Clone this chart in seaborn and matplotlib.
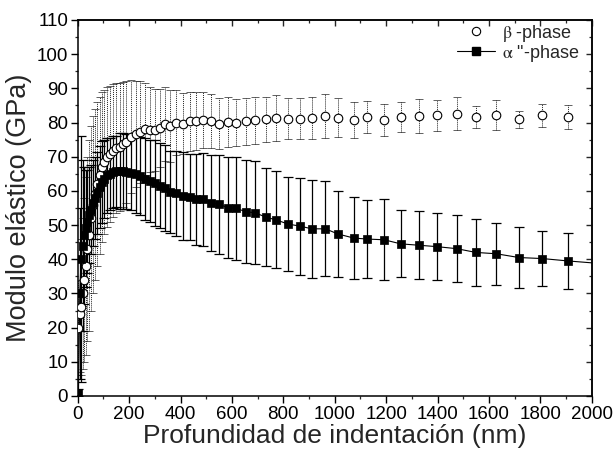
import numpy as np
import pandas as pd
import matplotlib
matplotlib.use("Agg")
import matplotlib.pyplot as plt
from matplotlib.lines import Line2D
from matplotlib.ticker import MultipleLocator
import seaborn as sns

# ---- data ----
depth_nm = [3, 8, 13, 19, 25, 31, 38, 45, 52, 60,
            68, 76, 85, 94, 104, 115, 126, 138, 150, 163,
            176, 189, 209, 228, 244, 261, 280, 300, 319, 339,
            358, 384, 410, 436, 462, 488, 520, 550, 583, 617,
            654, 691, 732, 773, 818, 864, 911, 964, 1012, 1074,
            1127, 1192, 1257, 1327, 1396, 1474, 1549, 1629, 1717, 1808,
            1908, 2025]

beta_modulus = [20, 24, 26, 30, 34, 38, 43, 47, 52, 56,
                59, 62, 64.5, 67, 68.5, 70, 70.8, 71.8, 72.5, 72.9,
                73.6, 74.3, 75.8, 76.7, 77.2, 78.2, 77.9, 77.9, 78.4, 79.5,
                79.0, 80.0, 79.7, 80.3, 80.4, 80.6, 80.4, 79.7, 80.1, 80.0,
                80.3, 80.6, 80.9, 81.3, 81.1, 81.1, 81.4, 81.8, 81.4, 80.8,
                81.6, 80.8, 81.6, 81.9, 82.1, 82.6, 81.6, 82.1, 80.9, 82.1,
                81.6, 81.5]

beta_err = [14, 17, 20, 22, 24, 26, 27, 28, 27, 26,
            25, 24, 23, 22, 21, 20.5, 20, 19.5, 19, 18.8,
            18.3, 17.8, 16.5, 15.5, 15, 13.5, 12.5, 12, 11.5, 10.8,
            10.5, 9.5, 9, 8.7, 8.5, 8.2, 7.8, 7.5, 7.3, 7.0,
            6.9, 6.8, 6.7, 6.7, 6.0, 6.0, 6.2, 6.4, 5.7, 5.3,
            4.8, 4.7, 4.5, 4.9, 4.5, 4.9, 3.3, 4.4, 2.6, 3.4,
            3.5, 3.5]

alpha_modulus = [1, 30, 40, 44, 47, 49, 51, 53, 54.5, 56.5,
                 58, 59.5, 61, 62.5, 63.5, 64.5, 65, 65.5, 65.7, 65.8,
                 65.8, 65.6, 65.3, 64.9, 64.3, 63.6, 63.0, 62.3, 61.5, 60.8,
                 59.8, 59.3, 58.5, 58.3, 57.5, 57.5, 56.5, 56.1, 55.1, 54.9,
                 53.9, 53.6, 52.3, 51.5, 50.3, 49.7, 48.9, 48.9, 47.4, 46.2,
                 45.9, 45.7, 44.5, 44.1, 43.7, 43.1, 42.0, 41.6, 40.5, 40.2,
                 39.5, 38.8]

alpha_err = [1, 25, 36, 25, 20, 17, 15, 14, 13, 12.5,
             12, 12, 12, 12, 11.5, 11, 10.5, 10.5, 10.5, 11,
             11, 11, 11, 11.5, 11.5, 12, 12, 12.5, 12.5, 12.5,
             12, 12.5, 13, 12.6, 13.2, 13.7, 14, 14.5, 14.8, 15,
             15, 15, 14.4, 14.2, 13.8, 14.2, 14.3, 13.9, 12.7, 12,
             11.5, 11.8, 9.8, 10, 9.7, 9.7, 9.7, 9.1, 8.8, 8.0,
             8.3, 8.0]

series_labels = [r"$\mathrm{\beta}$ -phase", r'$\mathrm{\alpha}$ "-phase']
x_label = "Profundidad de indentación (nm)"
y_label = "Modulo elástico (GPa)"

df_b = pd.DataFrame({"depth": depth_nm, "modulus": beta_modulus, "err": beta_err})
df_a = pd.DataFrame({"depth": depth_nm, "modulus": alpha_modulus, "err": alpha_err})

# ---- style ----
sns.set_theme(style="ticks")
plt.rcParams["font.family"] = ["Liberation Sans", "DejaVu Sans"]
plt.rcParams["mathtext.fontset"] = "stix"

fig = plt.figure(figsize=(6.13, 4.59), dpi=100)
ax = fig.add_axes([0.1268, 0.1373, 0.8385, 0.8192])

# error bars
eb_b = ax.errorbar(df_b["depth"], df_b["modulus"], yerr=df_b["err"], fmt="none",
                   ecolor="#222222", elinewidth=0.7, capsize=3, capthick=0.5, zorder=1)
for c in eb_b[2]:
    c.set_linestyle((0, (1, 1)))
eb_a = ax.errorbar(df_a["depth"], df_a["modulus"], yerr=df_a["err"], fmt="none",
                   ecolor="black", elinewidth=0.9, capsize=3.6, capthick=0.9, zorder=2)

# alpha line
sns.lineplot(data=df_a, x="depth", y="modulus", color="black", linewidth=0.8,
             estimator=None, sort=True, ax=ax, zorder=3, legend=False)
# markers
sns.scatterplot(data=df_b, x="depth", y="modulus", marker="o", s=38,
                facecolor="white", edgecolor="black", linewidth=0.8, ax=ax,
                zorder=4, legend=False)
sns.scatterplot(data=df_a, x="depth", y="modulus", marker="s", s=30,
                color="black", edgecolor="black", linewidth=0.5, ax=ax,
                zorder=5, legend=False)

ax.set_xlim(0, 2000)
ax.set_ylim(0, 110)
ax.xaxis.set_major_locator(MultipleLocator(200))
ax.xaxis.set_minor_locator(MultipleLocator(100))
ax.yaxis.set_major_locator(MultipleLocator(10))
ax.yaxis.set_minor_locator(MultipleLocator(5))

ax.set_xlabel(x_label, fontsize=19, labelpad=1)
ax.set_ylabel(y_label, fontsize=19.5, labelpad=3)

for s in ax.spines.values():
    s.set_linewidth(1.1)
    s.set_color("black")
ax.tick_params(which="major", direction="out", length=5, width=1.0, labelsize=13.5,
               colors="black", pad=2)
ax.tick_params(which="minor", direction="out", length=2.5, width=0.9)

# inward ticks on top and right
top = ax.secondary_xaxis("top")
top.xaxis.set_major_locator(MultipleLocator(200))
top.xaxis.set_minor_locator(MultipleLocator(100))
top.tick_params(which="major", direction="in", length=4, width=1.0, labeltop=False)
top.tick_params(which="minor", direction="in", length=2, width=0.9)
right = ax.secondary_yaxis("right")
right.yaxis.set_major_locator(MultipleLocator(10))
right.yaxis.set_minor_locator(MultipleLocator(5))
right.tick_params(which="major", direction="in", length=4, width=1.0, labelright=False)
right.tick_params(which="minor", direction="in", length=2, width=0.9)

handles = [
    Line2D([], [], linestyle="none", marker="o", markersize=6,
           markerfacecolor="white", markeredgecolor="black", markeredgewidth=0.8),
    Line2D([], [], color="black", linewidth=0.8, marker="s", markersize=5.5,
           markerfacecolor="black", markeredgecolor="black"),
]
ax.legend(handles, series_labels, loc="upper right", frameon=False, fontsize=13,
          handlelength=2.1, handletextpad=0.4, labelspacing=-0.05,
          borderaxespad=0.0, bbox_to_anchor=(0.99, 1.012))

fig.savefig("out.png", dpi=100)
